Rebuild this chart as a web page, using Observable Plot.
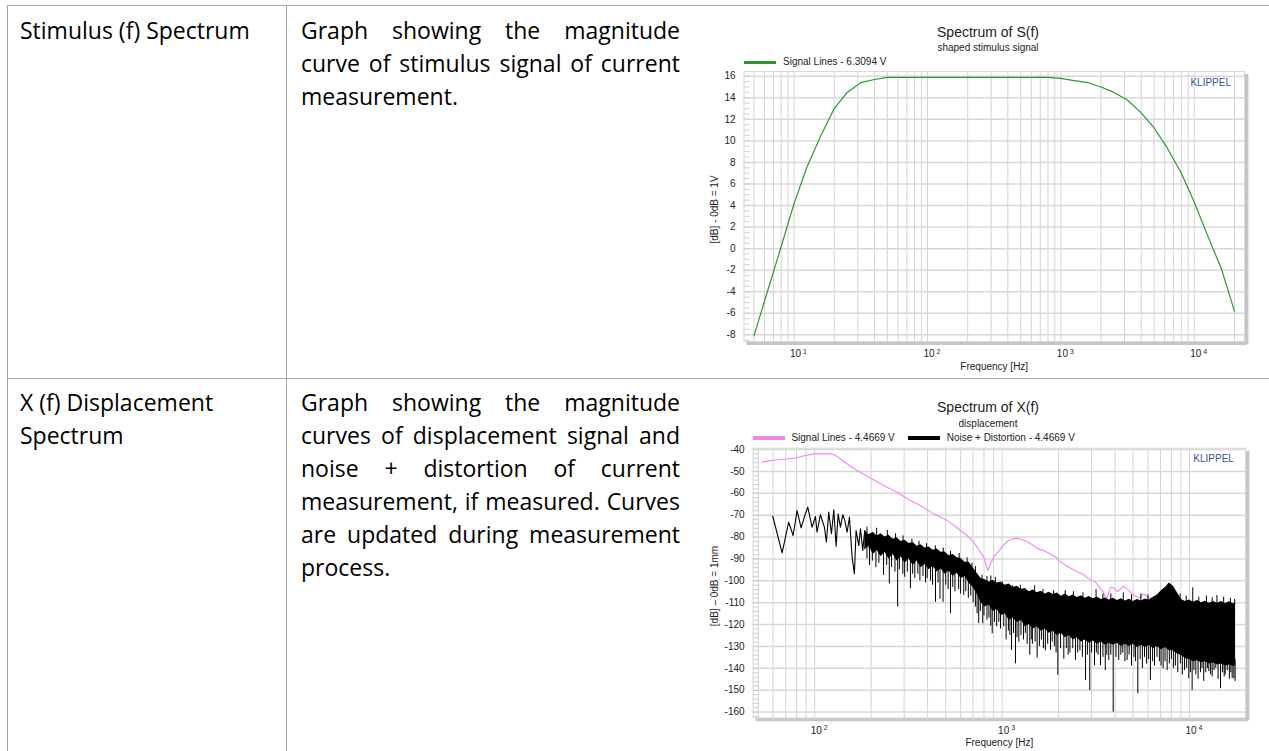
<!DOCTYPE html>
<html><head><meta charset="utf-8">
<script src="https://cdn.jsdelivr.net/npm/d3@7"></script>
<script src="https://cdn.jsdelivr.net/npm/@observablehq/plot@0.6"></script>
<style>
html,body{margin:0;padding:0;background:#fff;}
body{width:1269px;height:751px;position:relative;overflow:hidden;}
.hl{position:absolute;height:1px;background:#a6a6a6;}
.vl{position:absolute;width:1px;background:#a6a6a6;}
.cell{position:absolute;font-family:"Open Sans",sans-serif;font-size:23px;line-height:33px;color:#000;}
.cell div{white-space:nowrap;}
.ct{position:absolute;font-family:"Liberation Sans",Arial,sans-serif;color:#222;white-space:nowrap;}
.sw{position:absolute;height:3.5px;}
.plot{position:absolute;}
</style></head><body>

<div class="hl" style="left:7px;top:5px;width:1262px"></div>
<div class="hl" style="left:7px;top:378px;width:1262px"></div>
<div class="vl" style="left:7px;top:5px;height:746px"></div>
<div class="vl" style="left:286px;top:5px;height:746px"></div>

<div class="cell" style="left:20px;top:14px"><div>Stimulus (f) Spectrum</div></div>
<div class="cell" style="left:301px;top:14px;width:379px">
  <div class="j"><span>Graph showing the magnitude</span></div>
  <div class="j"><span>curve of stimulus signal of current</span></div>
  <div><span>measurement.</span></div>
</div>
<div class="cell" style="left:20px;top:386px"><div>X (f) Displacement</div><div>Spectrum</div></div>
<div class="cell" style="left:301px;top:386px;width:379px">
  <div class="j"><span>Graph showing the magnitude</span></div>
  <div class="j"><span>curves of displacement signal and</span></div>
  <div class="j"><span>noise + distortion of current</span></div>
  <div class="j"><span>measurement, if measured. Curves</span></div>
  <div class="j"><span>are updated during measurement</span></div>
  <div><span>process.</span></div>
</div>

<div class="ct" style="left:888px;width:200px;text-align:center;top:24px;font-size:14px;line-height:16px">Spectrum of S(f)</div>
<div class="ct" style="left:888px;width:200px;text-align:center;top:42px;font-size:10px;line-height:12px">shaped stimulus signal</div>
<div class="sw" style="left:743.5px;top:60.5px;width:32.5px;background:#2f8f2f"></div>
<div class="ct" style="left:783px;top:56px;font-size:10px;line-height:12px">Signal Lines - 6.3094 V</div>
<div class="plot" id="c1" style="left:700px;top:66px"></div>

<div class="ct" style="left:888px;width:200px;text-align:center;top:399px;font-size:14px;line-height:16px">Spectrum of X(f)</div>
<div class="ct" style="left:888px;width:200px;text-align:center;top:417.7px;font-size:10px;line-height:12px">displacement</div>
<div class="sw" style="left:752.6px;top:436px;width:32.7px;background:#ee88ee"></div>
<div class="ct" style="left:791.4px;top:431.7px;font-size:10px;line-height:12px">Signal Lines - 4.4669 V</div>
<div class="sw" style="left:907.9px;top:436px;width:32.3px;background:#000"></div>
<div class="ct" style="left:946.7px;top:431.7px;font-size:10px;line-height:12px">Noise + Distortion - 4.4669 V</div>
<div class="plot" id="c2" style="left:700px;top:443px"></div>

<script>
// ---------- justify text lines ----------
document.querySelectorAll(".cell .j span").forEach(s => {
  const w = s.getBoundingClientRect().width;
  const n = (s.textContent.match(/ /g) || []).length;
  if (n) s.style.wordSpacing = ((379 - w) / n) + "px";
});

// ---------- chart 1 data : stimulus spectrum ----------
const stimFreq = [5, 6.3, 8, 10, 12.5, 16, 20, 25, 31.5, 40, 50, 63, 80, 100, 125, 160, 200, 250, 315, 400, 500, 630, 800, 1000, 1250, 1600, 2000, 2500, 3150, 4000, 5000, 6300, 8000, 10000, 12500, 16000, 20000];
const stimDb = [-8.1, -4.0, 0.2, 4.2, 7.6, 10.6, 13.0, 14.5, 15.4, 15.7, 15.9, 15.9, 15.9, 15.9, 15.9, 15.9, 15.9, 15.9, 15.9, 15.9, 15.9, 15.9, 15.9, 15.8, 15.6, 15.4, 15.0, 14.5, 13.8, 12.6, 11.2, 9.3, 7.0, 4.3, 1.3, -1.9, -5.8];
const stimTicksY = [-8, -6, -4, -2, 0, 2, 4, 6, 8, 10, 12, 14, 16];
const stimMinorY = d3.range(-8.5, 16.5, 0.5);
const stimGridX = [5, 6, 7, 8, 9, 10, 20, 30, 40, 50, 60, 70, 80, 90, 100, 200, 300, 400, 500, 600, 700, 800, 900, 1000, 2000, 3000, 4000, 5000, 6000, 7000, 8000, 9000, 10000, 20000];
const stimDecades = [10, 100, 1000, 10000];
const stimExp = ["1", "2", "3", "4"];
const stimXDomain = [4.21, 23790];
const stimYDomain = [-8.62, 16.44];

// ---------- chart 2 data : displacement spectrum ----------
const sigFreq = [52, 57, 63, 71, 80, 89, 99, 112, 124, 132, 149, 168, 198, 233, 275, 311, 366, 432, 509, 599, 650, 705, 766, 798, 839, 873, 910, 950, 1000, 1062, 1120, 1188, 1270, 1358, 1450, 1552, 1660, 1735, 1940, 2000, 2218, 2536, 2672, 2899, 3148, 3466, 3556, 3624, 3787, 3957, 4137, 4368, 4426, 4733, 5060, 5412, 5700, 6039, 6470];
const sigDb = [-45.8, -45.2, -44.7, -44.3, -43.8, -42.7, -42.0, -42.0, -42.0, -43.2, -46.6, -49.6, -52.9, -56.4, -59.5, -62.5, -65.6, -69.4, -72.4, -77.0, -79.3, -82.3, -86.9, -89.2, -95.3, -91.5, -88.5, -86.9, -84.5, -82.0, -81.0, -80.5, -81.0, -82.0, -83.5, -85.4, -86.1, -86.9, -89.2, -90.7, -93.3, -96.0, -96.8, -99.1, -100.6, -105.2, -107.5, -107.9, -102.9, -103.4, -104.9, -102.9, -102.4, -104.4, -106.7, -107.9, -106.0, -107.5, -108.6];

// noise + distortion: low-frequency trace
const noiseF = [59.7, 67.0, 72.6, 76.7, 80.5, 84.6, 88.5, 91.8, 96.8, 100.9, 102.9, 107.2, 112.6, 115.4, 118.8, 122.8, 126.4, 130.1, 133.3, 137.1, 141.2, 144.6, 148.8, 153.2, 158.3, 162.8, 166.2, 171.8, 175.4, 180.4, 184.9, 190.2, 195.8, 200.7, 206.6];
const noiseDb = [-70.5, -87.2, -73.2, -79.3, -67.9, -75.8, -70.2, -66.3, -75.5, -70.6, -77.8, -69.8, -75.5, -82.3, -68.6, -78.5, -67.6, -84.2, -69.4, -75.5, -69.8, -72.4, -77.8, -70.9, -89.2, -96.8, -77.0, -83.9, -76.2, -86.1, -77.0, -79.3, -85.4, -78.5, -86.9];

// noise + distortion: dense part, upper and lower edge of the solid band
const bandF = [185, 195, 205, 215, 226, 237, 249, 262, 275, 289, 303, 319, 335, 352, 369, 388, 407, 428, 450, 472, 496, 521, 547, 575, 604, 634, 666, 700, 735, 772, 811, 852, 895, 940, 988, 1038, 1090, 1145, 1203, 1264, 1327, 1394, 1465, 1539, 1616, 1698, 1783, 1873, 1968, 2067, 2171, 2281, 2396, 2517, 2643, 2777, 2917, 3064, 3219, 3381, 3551, 3730, 3919, 4116, 4324, 4542, 4771, 5012, 5265, 5530, 5809, 6102, 6410, 6733, 7073, 7430, 7805, 8198, 8612, 9046, 9502, 9982, 10485, 11014, 11570, 12153, 12766, 13410, 14086, 14796, 15543, 16327, 17150, 17600];
const bandTop = [-77.5, -79, -77.8, -79.5, -78.5, -80, -79.2, -81, -80.3, -82, -81.5, -83, -82.5, -84.2, -83.5, -85, -84.6, -86, -85.5, -87, -86.8, -88.5, -88, -89.5, -89.8, -91.5, -91.5, -94, -96.5, -99, -99.5, -100.5, -99.8, -101, -100.7, -102, -101.5, -103, -102.5, -104, -103.5, -105, -104.2, -105.5, -104.8, -106, -105.2, -106.3, -105.6, -107, -106, -107.3, -106.5, -107.6, -106.8, -108, -107.2, -108.2, -107.4, -108.5, -107.8, -108.8, -108, -109, -108.2, -109.2, -108.4, -109.4, -108.5, -109.2, -108.3, -108.8, -107.5, -106.5, -104.5, -103, -101, -102.5, -105.5, -108.5, -109.5, -108.8, -109.8, -109, -110, -109.3, -110.2, -109.4, -110.3, -109.5, -110.4, -109.6, -110.5, -110];
const bandBot = [-86, -84, -88, -86, -89, -87, -90, -88, -91, -89, -92, -90, -93, -91, -94, -92.5, -95, -93.5, -96, -94.5, -97, -95.5, -98, -96.5, -99, -98, -101, -103, -106, -110, -112, -111, -114, -113, -116, -115, -118, -117, -119, -118, -121, -120, -122, -121, -123, -122, -124, -123, -125, -124, -126, -125, -127, -126, -128, -127, -128.5, -127.5, -129, -128, -129.5, -128.5, -129.5, -128.5, -130, -129, -130, -129, -130.5, -129.5, -130.5, -129.5, -131, -130, -131.5, -130.5, -132, -132, -133.5, -134, -135.5, -136, -137, -136.5, -137.5, -137, -138, -137.5, -138.5, -138, -139, -138.5, -139, -139];

// noise + distortion: dips reaching below the solid band
const dipF = [190, 196, 203, 212, 220, 233, 242, 250, 257, 268, 277, 283, 295, 302, 312, 324, 333, 342, 355, 364, 378, 390, 398, 415, 425, 441, 455, 466, 484, 500, 515, 530, 545, 560, 586, 600, 624, 640, 660, 680, 700, 720, 735, 750, 765, 788, 800, 830, 850, 869, 885, 910, 935, 960, 980,
  1020, 1050, 1080, 1100, 1122, 1150, 1178, 1200, 1227, 1260, 1300, 1330, 1360, 1404, 1430, 1450, 1500, 1537, 1580, 1620, 1660, 1700, 1750, 1811, 1850, 1900, 1940, 1982, 2050, 2133, 2200, 2250, 2300, 2380, 2461, 2530, 2600, 2680, 2785, 2850, 2934, 3000, 3110, 3180, 3250, 3347, 3450, 3550, 3620, 3707, 3800, 3912, 4050, 4188, 4300, 4400, 4520, 4642, 4760, 4900, 5050, 5150, 5296, 5450, 5600, 5750, 5900, 6050, 6182, 6350, 6500, 6700, 6900, 7050, 7226, 7400, 7590, 7800, 8000, 8200, 8400, 8650, 8933, 9150, 9400, 9650, 9905, 10100, 10320, 10550, 10800, 11100, 11430, 11650, 11900, 12200, 12450, 12670, 12950, 13200, 13500, 13800, 14200, 14630, 15000, 15300, 15500, 15900, 16300, 16600, 16870, 17220, 17500];
const dipFrom = [-84, -84, -85, -85, -86, -86, -87, -87, -88, -88, -88, -89, -89, -89, -90, -90, -90, -90, -91, -91, -92, -92, -92, -93, -93, -93, -94, -94, -94, -95, -95, -95, -96, -96, -97, -97, -98, -98, -99, -100, -101, -103, -104, -106, -107, -109, -109, -110, -110, -111, -111, -112, -112, -113, -113,
  -114, -115, -115, -116, -116, -116, -117, -117, -117, -117, -118, -118, -118, -119, -119, -119, -119, -120, -120, -120, -120, -121, -121, -121, -121, -122, -122, -122, -122, -123, -123, -123, -123, -124, -124, -124, -124, -125, -125, -125, -125, -125, -126, -126, -126, -126, -126, -126, -126, -127, -127, -127, -127, -127, -127, -127, -127, -127, -127, -127, -127, -127, -127, -127, -127, -127, -127, -127, -127, -128, -128, -128, -128, -128, -128, -128, -128, -129, -129, -129, -130, -130, -131, -132, -132, -133, -133, -134, -134, -134, -134, -135, -135, -135, -135, -135, -135, -135, -136, -136, -136, -136, -136, -136, -136, -136, -136, -136, -136, -136, -136, -136, -136, -136];
const dipTo = [-90, -93, -91, -94, -92, -97.5, -93, -101.4, -94, -96, -112, -95, -97, -98.4, -96, -103.6, -97, -99, -97, -100, -98, -101, -99, -100, -102, -109.8, -101, -108.5, -109.8, -102, -104, -115, -103, -105, -104, -106, -106.7, -105, -108, -107, -110, -112, -115, -119.6, -114, -119.6, -116, -118, -117, -120.7, -124.2, -119, -121, -119, -122,
  -121, -127, -123, -125, -131.8, -124, -137.9, -126, -128, -125, -127, -124, -129, -134, -127, -129, -128, -135.3, -130, -127, -131, -132, -129, -131.8, -128, -130, -133, -143.2, -131, -135.8, -131, -134, -133, -131, -136.4, -133, -132, -135, -145.5, -134, -150.1, -133, -138.8, -133, -134, -138.8, -135, -141, -134, -136.4, -134, -160, -135, -136.4, -134, -133, -137, -136.4, -134, -139, -135, -137, -151.6, -136, -140, -135, -138, -136, -145.5, -137, -139, -135, -137, -139, -140.2, -137, -141, -138, -136, -140, -139, -142, -138, -143, -141, -140, -144.8, -142, -150.1, -141, -143, -145, -142, -140, -146, -142, -140, -141.5, -143, -144, -141, -140, -145, -149.3, -142, -144, -143, -141, -145, -142, -144.6, -144.8, -146];

// noise + distortion: peaks rising above the solid band
const peakF = [190, 214, 244, 270, 296, 330, 360, 395, 440, 485, 530, 590, 650, 690, 720, 780, 830, 870, 920, 1000, 1136, 1250, 1490, 1650, 1880, 2170, 2400, 2700, 3170, 3450, 3800, 4430, 4900, 5500, 6000, 8900, 9600, 10400, 11200, 12300, 13200, 14000, 15200, 16500, 17400];
const peakFrom = [-79, -80, -81, -82, -83, -84, -85, -86, -87, -88, -89, -91, -93, -95, -97, -100, -101, -101.5, -102, -102.5, -104, -105, -106, -107, -107, -108, -108, -109, -109, -109.5, -110, -110, -110, -110, -110, -110, -111, -111, -111, -111, -111, -111, -111, -111, -111];
const peakTo = [-75.5, -76, -77, -78.5, -79.5, -81, -82, -83, -84, -85, -86.5, -87.5, -89.5, -92, -93.5, -97.5, -98, -97.8, -98.5, -100.5, -102.3, -102, -102.3, -104, -104.5, -104.5, -105, -105.5, -104, -106, -106, -105.5, -106.5, -106, -106.5, -106, -107, -103.2, -107.5, -107, -107.8, -106.7, -107.5, -108, -108.5];

const dispTicksY = [-160, -150, -140, -130, -120, -110, -100, -90, -80, -70, -60, -50, -40];
const dispMinorY = d3.range(-162, -38, 2);
const dispGridX = [50, 60, 70, 80, 90, 100, 200, 300, 400, 500, 600, 700, 800, 900, 1000, 2000, 3000, 4000, 5000, 6000, 7000, 8000, 9000, 10000];
const dispDecades = [100, 1000, 10000];
const dispExp = ["2", "3", "4"];
const dispXDomain = [46.9, 19880];
const dispYDomain = [-162.6, -39.4];

// ---------- helpers ----------
const FONT = "Liberation Sans, Arial, sans-serif";
function frameMarks(xDomain, yDomain, gridX, ticksY, minorY, decades, exps, yLabel, labelDx) {
  return [
    Plot.gridX(gridX, {stroke: "#d3d3d3", strokeOpacity: 1}),
    Plot.gridY(ticksY, {stroke: "#d8d8d8", strokeOpacity: 1, strokeWidth: 1.5}),
    Plot.axisY(minorY, {anchor: "left", tickSize: 6, dx: 6, tickFormat: () => "", label: null, stroke: "#cfcfcf"}),
    Plot.frame({stroke: "#d8d8d8"}),
    Plot.ruleX([xDomain[1]], {stroke: "#c6c6c6", strokeWidth: 3.5, dx: 2.2, dy: 3}),
    Plot.ruleY([yDomain[0]], {stroke: "#c6c6c6", strokeWidth: 3, dx: 3, dy: 2}),
    Plot.axisY(ticksY, {anchor: "left", tickSize: 0, tickPadding: 8.5, label: null, fontSize: 10, fill: "#222", tickFormat: d => String(d)}),
    Plot.text(decades, {x: d => d, frameAnchor: "bottom", text: () => "10", dx: 1.5, dy: 12.5, fontSize: 10, fill: "#222", lineAnchor: "middle"}),
    Plot.text(decades, {x: d => d, frameAnchor: "bottom", text: (d, i) => exps[i], dx: 9, dy: 10, fontSize: 7, fill: "#222", textAnchor: "start", lineAnchor: "middle"}),
    Plot.text(["Frequency [Hz]"], {frameAnchor: "bottom", dy: 25.2, fontSize: 10, fill: "#222", lineAnchor: "middle"}),
    Plot.text([yLabel], {frameAnchor: "left", rotate: -90, dx: labelDx, dy: 3, fontSize: 10, fill: "#222", textAnchor: "middle", lineAnchor: "middle"})
  ];
}

// ---------- chart 1 ----------
const stim = stimFreq.map((f, i) => ({f, db: stimDb[i]}));
const c1 = Plot.plot({
  width: 560, height: 310,
  marginLeft: 43.5, marginRight: 16, marginTop: 5, marginBottom: 35,
  style: {fontFamily: FONT, fontSize: "10px", background: "transparent", overflow: "visible"},
  x: {type: "log", domain: stimXDomain, axis: null, label: null},
  y: {domain: stimYDomain, axis: null, label: null},
  marks: [
    ...frameMarks(stimXDomain, stimYDomain, stimGridX, stimTicksY, stimMinorY, stimDecades, stimExp, "[dB] - 0dB = 1V", -29),
    Plot.line(stim, {x: "f", y: "db", stroke: "#2f962f", strokeWidth: 1.2}),
    Plot.text(["KLIPPEL"], {frameAnchor: "top-right", dx: -13.5, dy: 11.7, lineAnchor: "middle", fontSize: 10, fill: "#3c50a0"})
  ]
});
document.getElementById("c1").append(c1);

// ---------- chart 2 ----------
const sig = sigFreq.map((f, i) => ({f, db: sigDb[i]}));
const noise = noiseF.map((f, i) => ({f, db: noiseDb[i]}));
const band = bandF.map((f, i) => ({f, top: bandTop[i], bot: bandBot[i]}));
const dips = dipF.map((f, i) => ({f, y1: dipFrom[i], y2: dipTo[i]}));
const peaks = peakF.map((f, i) => ({f, y1: peakFrom[i], y2: peakTo[i]}));
const c2 = Plot.plot({
  width: 560, height: 308,
  marginLeft: 52.6, marginRight: 15, marginTop: 4.7, marginBottom: 33.7,
  style: {fontFamily: FONT, fontSize: "10px", background: "transparent", overflow: "visible"},
  x: {type: "log", domain: dispXDomain, axis: null, label: null},
  y: {domain: dispYDomain, axis: null, label: null},
  marks: [
    ...frameMarks(dispXDomain, dispYDomain, dispGridX, dispTicksY, dispMinorY, dispDecades, dispExp, "[dB] \u2013 0dB = 1mm", -38),
    Plot.line(sig, {x: "f", y: "db", stroke: "#ee88ee", strokeWidth: 1.1}),
    Plot.areaY(band, {x: "f", y1: "bot", y2: "top", fill: "#000"}),
    Plot.ruleX(dips, {x: "f", y1: "y1", y2: "y2", stroke: "#000", strokeWidth: 1}),
    Plot.ruleX(peaks, {x: "f", y1: "y1", y2: "y2", stroke: "#000", strokeWidth: 1}),
    Plot.line(noise, {x: "f", y: "db", stroke: "#000", strokeWidth: 1.1}),
    Plot.text(["KLIPPEL"], {frameAnchor: "top-right", dx: -11.6, dy: 10.6, lineAnchor: "middle", fontSize: 10, fill: "#3c50a0"})
  ]
});
document.getElementById("c2").append(c2);
</script>
</body></html>
